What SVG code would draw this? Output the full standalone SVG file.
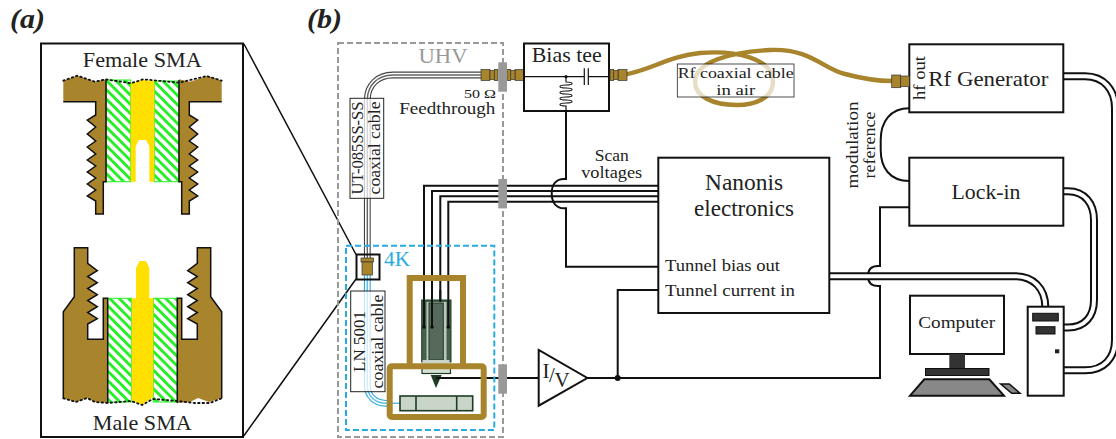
<svg xmlns="http://www.w3.org/2000/svg" xmlns:xlink="http://www.w3.org/1999/xlink" width="1116" height="439" viewBox="0 0 1116 439">
<style>
text{font-family:"Liberation Serif","Times New Roman",serif;fill:#222;text-anchor:middle}
.box{fill:#fff;stroke:#111;stroke-width:2}
.w{fill:none;stroke:#111;stroke-width:2}
.lbl{fill:#fff;fill-opacity:.72;stroke:#222;stroke-width:1}
.brass{fill:#a8842c;stroke:#333;stroke-width:.7}
.edge{fill:none;stroke:#111;stroke-width:1.5;stroke-linejoin:miter}
.dots{fill:none;stroke:#111;stroke-width:1.8;stroke-dasharray:1.5 3;stroke-linecap:round}
.ft{fill:#999}
.dO{fill:none;stroke:#111;stroke-width:8}
.dI{fill:none;stroke:#fff;stroke-width:4}
.gO{fill:none;stroke:#444;stroke-width:6.8}
.gI{fill:none;stroke:#fff;stroke-width:4.6}
.gC{fill:none;stroke:#666;stroke-width:1.4}
.bO{fill:none;stroke:#29abe2;stroke-width:6.8}
.bI{fill:none;stroke:#fff;stroke-width:4.6}
.bC{fill:none;stroke:#5fbfe8;stroke-width:1.4}
.frame{fill:none;stroke:#a8842c;stroke-width:6}
.g{fill:#56695a;stroke:#1e3c24;stroke-width:1}
</style>
<defs>
<pattern id="hatch" width="6.6" height="6.6" patternUnits="userSpaceOnUse" patternTransform="rotate(45)">
<rect width="6.6" height="6.6" fill="#fff"/>
<rect width="6.6" height="2.8" fill="#22f022"/>
</pattern>
<g id="sma">
<rect x="0" y="-5.5" width="9" height="11" class="brass"/>
<rect x="9" y="-4.5" width="4.3" height="9" class="brass"/>
<rect x="13.3" y="-5.5" width="3.7" height="11" class="brass"/>
</g>
<g id="fb">
<path fill="#a8842c" d="M63.3,80.7 77.3,75.7 95,81.7 106,79.3V181.7H103.3V214H95.7V201L87.3,196 95.7,190 87.3,184 95.7,178 87.3,172 95.7,166 87.3,160 95.7,154 87.3,147 95.7,141 87.3,134 95.7,127 87.3,120 95.7,115V101.7H63.3Z"/>
<path class="edge" d="M106,80V181.7H103.3V214H95.7V201L87.3,196 95.7,190 87.3,184 95.7,178 87.3,172 95.7,166 87.3,160 95.7,154 87.3,147 95.7,141 87.3,134 95.7,127 87.3,120 95.7,115V101.7H63.3"/>
</g>
<g id="mb">
<path fill="#a8842c" d="M74.3,247.7H87.7V263.3L97.3,270.7 87.7,276.5 97.3,282.7 87.7,288.5 97.3,294.7 87.7,300.5 97.3,306.7 87.7,312.5 97.3,318.7 87.7,324V339.3H103.3V298.3H107.7V403L95,402 87,398 76,402 63.3,398.3V311.7L74.3,296.7Z"/>
<path class="edge" d="M63.3,398.3V311.7L74.3,296.7V247.7H87.7V263.3L97.3,270.7 87.7,276.5 97.3,282.7 87.7,288.5 97.3,294.7 87.7,300.5 97.3,306.7 87.7,312.5 97.3,318.7 87.7,324V339.3H103.3V298.3H107.7V403"/>
</g>
</defs>

<g id="label-a"><text x="27.5" y="28" font-size="28" font-style="italic" font-weight="bold" textLength="35" lengthAdjust="spacingAndGlyphs">(a)</text></g>
<g id="label-b"><text x="324.5" y="28" font-size="28" font-style="italic" font-weight="bold" textLength="35" lengthAdjust="spacingAndGlyphs">(b)</text></g>

<g id="connectors">
<path class="w" d="M244,44 356,254.5M243,437 356,279" style="stroke-width:1.5"/>
<path class="w" d="M424,300V185.7H658M432,327V191H658M440.3,300V196.3H658M448.3,327V201.7H658"/>
<path class="w" d="M566,111V179H564C555,179 551.7,186 551.7,193.5S555,208.3 564,208.3H566V266.7H658"/>
<path class="w" d="M658,290H617.7V378"/>
<path class="w" d="M436,378H539M587,378H880V286H878C871,286 868,282 868,276S871,266 878,266H880V207.3H909"/>
<path class="w" d="M909.3,108.3C890,108.3 880.7,122 880.7,140V150C880.7,168 890,181 909.3,181"/>
<circle cx="617.7" cy="378" r="3" fill="#111"/>
<path class="dO" d="M829,276.2H1015C1033,276.2 1045.3,288 1045.3,307"/>
<path class="dI" d="M829,276.2H1015C1033,276.2 1045.3,288 1045.3,307"/>
<path class="dO" d="M1063,76.3H1085C1104,76.3 1115,90 1115,108V340C1115,358 1104,370.3 1085,370.3H1063"/>
<path class="dI" d="M1063,76.3H1085C1104,76.3 1115,90 1115,108V340C1115,358 1104,370.3 1085,370.3H1063"/>
<path class="dO" d="M1063,191.3H1068C1085,191.3 1094,204 1094,220V300C1094,316 1085,327.5 1068,327.5H1063"/>
<path class="dI" d="M1063,191.3H1068C1085,191.3 1094,204 1094,220V300C1094,316 1085,327.5 1068,327.5H1063"/>
<path fill="none" stroke="#a8842c" stroke-width="4.4" d="M622,75C650,71 668,56 700,53C735,50 773,58 773,82C773,98 755,105 737,105C712,105 695,96 695,82C695,62 730,52 770,50C810,48 825,70 845,74C860,78 875,81 892,81"/>
<path class="gO" d="M482,75H393C378,75 367.3,85 367.3,100V258"/>
<path class="gI" d="M482,75H393C378,75 367.3,85 367.3,100V258"/>
<path class="gC" d="M482,75H393C378,75 367.3,85 367.3,100V258"/>
<path class="bO" d="M367.3,275V385C367.3,396 375,403.3 386,403.3H392"/>
<path class="bI" d="M367.3,275V385C367.3,396 375,403.3 386,403.3H392"/>
<path class="bC" d="M367.3,275V385C367.3,396 375,403.3 386,403.3H400"/>
</g>

<g id="sma-panel">
<rect x="41" y="43.5" width="202" height="393.5" fill="none" stroke="#111" stroke-width="2"/>
<g id="female-sma">
<rect x="106" y="80" width="24.7" height="101.7" fill="url(#hatch)" stroke="#22f022"/>
<rect x="154.3" y="81" width="24.7" height="100.7" fill="url(#hatch)" stroke="#22f022"/>
<path fill="#ffe000" d="M130.7,83 143,80 154.3,81V181.7H149.3V146L146,140H139L135.7,146V181.7H130.7Z"/>
<use xlink:href="#fb" href="#fb"/>
<use xlink:href="#fb" href="#fb" transform="translate(285,0) scale(-1,1)"/>
<path class="dots" d="M63.3,80.7 77.3,75.7 95,81.7 106,79.3 130.7,83.3 143.3,79.3 179,82.7 206.7,76 221.7,80.7"/>
<text x="142.3" y="67" font-size="22" textLength="119" lengthAdjust="spacingAndGlyphs">Female SMA</text>
</g>
<g id="male-sma">
<rect x="107.7" y="298.3" width="24" height="103.7" fill="url(#hatch)" stroke="#22f022"/>
<rect x="153.3" y="298.3" width="24" height="103.7" fill="url(#hatch)" stroke="#22f022"/>
<path fill="#ffe000" d="M131.7,298.3H136V268L139.5,261H146L149.3,268V298.3H153.3V397L142,405 131.7,400Z"/>
<use xlink:href="#mb" href="#mb"/>
<use xlink:href="#mb" href="#mb" transform="translate(285,0) scale(-1,1)"/>
<path class="dots" d="M63.3,398.3 76,402 87,398 95,402 107.7,403 131,401 142,405 153,399 177,401 195,403 210,403 221.7,398.3"/>
<text x="142.3" y="430" font-size="22" textLength="99" lengthAdjust="spacingAndGlyphs">Male SMA</text>
</g>
</g>

<g id="uhv-chamber">
<rect x="338" y="43" width="165" height="394" fill="none" stroke="#999" stroke-width="2" stroke-dasharray="6 3"/>
<text x="443" y="63" font-size="22" style="fill:#999" textLength="49" lengthAdjust="spacingAndGlyphs">UHV</text>
</g>
<g id="cold-stage">
<rect x="346" y="245.7" width="148.3" height="184.3" fill="none" stroke="#29abe2" stroke-width="2" stroke-dasharray="6 3"/>
<text x="397" y="266" font-size="22" style="fill:#29abe2" textLength="26" lengthAdjust="spacingAndGlyphs">4K</text>
</g>

<g id="ut-cable-label">
<rect x="350" y="98.3" width="33.7" height="100" class="lbl"/>
<text transform="translate(363,148) rotate(-90)" font-size="16.5" textLength="93" lengthAdjust="spacingAndGlyphs">UT-085SS-SS</text>
<text transform="translate(380,148) rotate(-90)" font-size="16.5" textLength="93" lengthAdjust="spacingAndGlyphs">coaxial cable</text>
</g>
<g id="ln-cable-label">
<rect x="350.7" y="291" width="34.3" height="100.7" class="lbl"/>
<text transform="translate(365,341.5) rotate(-90)" font-size="16.5" textLength="61" lengthAdjust="spacingAndGlyphs">LN 5001</text>
<text transform="translate(382.5,341.5) rotate(-90)" font-size="16.5" textLength="94" lengthAdjust="spacingAndGlyphs">coaxial cable</text>
</g>

<g id="zoom-box">
<rect x="356.5" y="254.5" width="23" height="25" fill="none" stroke="#111" stroke-width="2"/>
<rect x="361" y="258" width="12.5" height="4" class="brass"/>
<rect x="362" y="262" width="10.5" height="13" class="brass"/>
</g>

<g id="tip-holder">
<rect x="421.7" y="300" width="29.3" height="62" fill="#44604a" stroke="#1e3c24"/>
<rect x="426.5" y="302" width="20" height="60" fill="#c8d5c8" opacity=".9"/>
<rect x="429" y="303" width="14.3" height="57" class="g"/>
<rect x="422.5" y="360" width="27" height="3.5" fill="#c8d5c8"/>
<rect x="422" y="368" width="28.5" height="5.5" fill="#d6dfd6" stroke="#1e3c24" stroke-width="1.2"/>
<path fill="#1e3c24" d="M430.7,375H441.7L436,388Z"/>
<path class="w" d="M424,300V327M432,300V327M448.3,300V327M440.3,290V302"/>
<circle cx="424" cy="327" r="1.8" fill="#111"/><circle cx="432" cy="327" r="1.8" fill="#111"/><circle cx="448.3" cy="327" r="1.8" fill="#111"/>
<path class="w" d="M436,378H460"/>
<path class="frame" d="M409.7,366V278H463V366"/>
<rect x="389.7" y="366.3" width="94" height="50.7" rx="2" class="frame"/>
<rect x="400" y="396" width="72.7" height="14.7" fill="#c8d5c8" stroke="#1e3c24" stroke-width="1.6"/>
<path fill="none" stroke="#1e3c24" stroke-width="1.6" d="M416,396V410.7M456.7,396V410.7"/>
</g>

<g id="feedthroughs">
<use xlink:href="#sma" href="#sma" transform="translate(481,75)"/>
<use xlink:href="#sma" href="#sma" transform="translate(524,75) scale(-1,1)"/>
<rect x="498.3" y="62.3" width="8.7" height="29.4" class="ft"/>
<rect x="498.3" y="179" width="8.7" height="29.4" class="ft"/>
<rect x="498.3" y="364.3" width="8.7" height="29.4" class="ft"/>
<text x="480" y="97.5" font-size="13.5" textLength="32" lengthAdjust="spacingAndGlyphs">50 Ω</text>
<text x="447.3" y="114" font-size="16" textLength="96" lengthAdjust="spacingAndGlyphs">Feedthrough</text>
</g>

<g id="bias-tee">
<rect x="524" y="43.5" width="85" height="67.5" class="box"/>
<text x="566.7" y="61.7" font-size="21" textLength="70" lengthAdjust="spacingAndGlyphs">Bias tee</text>
<path fill="none" stroke="#111" stroke-width="1.2" d="M524,76.7H584.3M588.3,76.7H609M584.3,68.3V85M588.3,68.3V85"/>
<circle cx="566" cy="76.7" r="1.6" fill="#111"/>
<path fill="none" stroke="#111" stroke-width="1.2" d="M566,76.7V82C574,82 574,85 566,85C558,85 558,88 566,88C574,88 574,91 566,91C558,91 558,94 566,94C574,94 574,97 566,97C558,97 558,100 566,100C574,100 574,103 566,103C558,103 558,106 566,106V111"/>
<use xlink:href="#sma" href="#sma" transform="translate(627,75) scale(-1,1)"/>
</g>

<g id="rf-cable-label">
<rect x="677.3" y="64" width="116.7" height="33" class="lbl" style="stroke-width:.8"/>
<text x="735.7" y="77.5" font-size="15" textLength="116" lengthAdjust="spacingAndGlyphs">Rf coaxial cable</text>
<text x="735.7" y="95" font-size="15" textLength="39" lengthAdjust="spacingAndGlyphs">in air</text>
</g>

<g id="scan-label">
<text x="611.7" y="161" font-size="16" textLength="34" lengthAdjust="spacingAndGlyphs">Scan</text>
<text x="611.7" y="177.7" font-size="16" textLength="61" lengthAdjust="spacingAndGlyphs">voltages</text>
</g>

<g id="rf-generator">
<rect x="909.3" y="44.3" width="154" height="68" class="box"/>
<text x="988.3" y="85.7" font-size="22" textLength="120" lengthAdjust="spacingAndGlyphs">Rf Generator</text>
<text transform="translate(925,78) rotate(-90)" font-size="17.5" textLength="44" lengthAdjust="spacingAndGlyphs">hf out</text>
<rect x="891.7" y="75" width="9" height="12.7" class="brass"/>
<rect x="900.7" y="76" width="8.6" height="10.7" class="brass"/>
</g>
<g id="modulation-label">
<text transform="translate(858,145) rotate(-90)" font-size="16.5" textLength="87" lengthAdjust="spacingAndGlyphs">modulation</text>
<text transform="translate(875,145) rotate(-90)" font-size="16.5" textLength="67" lengthAdjust="spacingAndGlyphs">reference</text>
</g>
<g id="lock-in">
<rect x="909.3" y="157.7" width="154" height="68" class="box"/>
<text x="986" y="199" font-size="22" textLength="69" lengthAdjust="spacingAndGlyphs">Lock-in</text>
</g>
<g id="nanonis">
<rect x="658.3" y="157.7" width="171" height="155.3" class="box"/>
<text x="744" y="190" font-size="24" textLength="78" lengthAdjust="spacingAndGlyphs">Nanonis</text>
<text x="744" y="215.7" font-size="24" textLength="100" lengthAdjust="spacingAndGlyphs">electronics</text>
<text x="722.5" y="270.7" font-size="16.5" textLength="115" lengthAdjust="spacingAndGlyphs">Tunnel bias out</text>
<text x="730" y="296" font-size="16.5" textLength="130" lengthAdjust="spacingAndGlyphs">Tunnel current in</text>
</g>
<g id="iv-converter">
<path class="box" d="M538.7,350V405.7L587.3,378Z"/>
<text x="546" y="378" font-size="21">I</text>
<text x="552" y="382" font-size="21">/</text>
<text x="562" y="387" font-size="21">V</text>
</g>
<g id="computer">
<rect x="910" y="295.7" width="94" height="58.3" class="box"/>
<text x="956.7" y="328" font-size="17.5" textLength="77" lengthAdjust="spacingAndGlyphs">Computer</text>
<rect x="949.3" y="354" width="15.7" height="15" fill="#333"/>
<rect x="925.5" y="368.5" width="63.5" height="7" fill="#333" stroke="#111"/>
<path fill="#888" stroke="#111" stroke-width="2" d="M924.3,379.3H989.3L1004,395.7H910Z"/>
<path fill="#888" stroke="#111" stroke-width="1.5" d="M1000.7,384H1009.3L1020,393.3H1011.7Z"/>
<rect x="1027.7" y="306.7" width="36" height="89" class="box"/>
<rect x="1032.7" y="313.3" width="25.6" height="7.7" fill="#333" stroke="#111"/>
<rect x="1036" y="326.7" width="19" height="7.3" fill="#333" stroke="#111"/>
<rect x="1055" y="349.3" width="4.3" height="4" fill="#222"/>
</g>
</svg>
